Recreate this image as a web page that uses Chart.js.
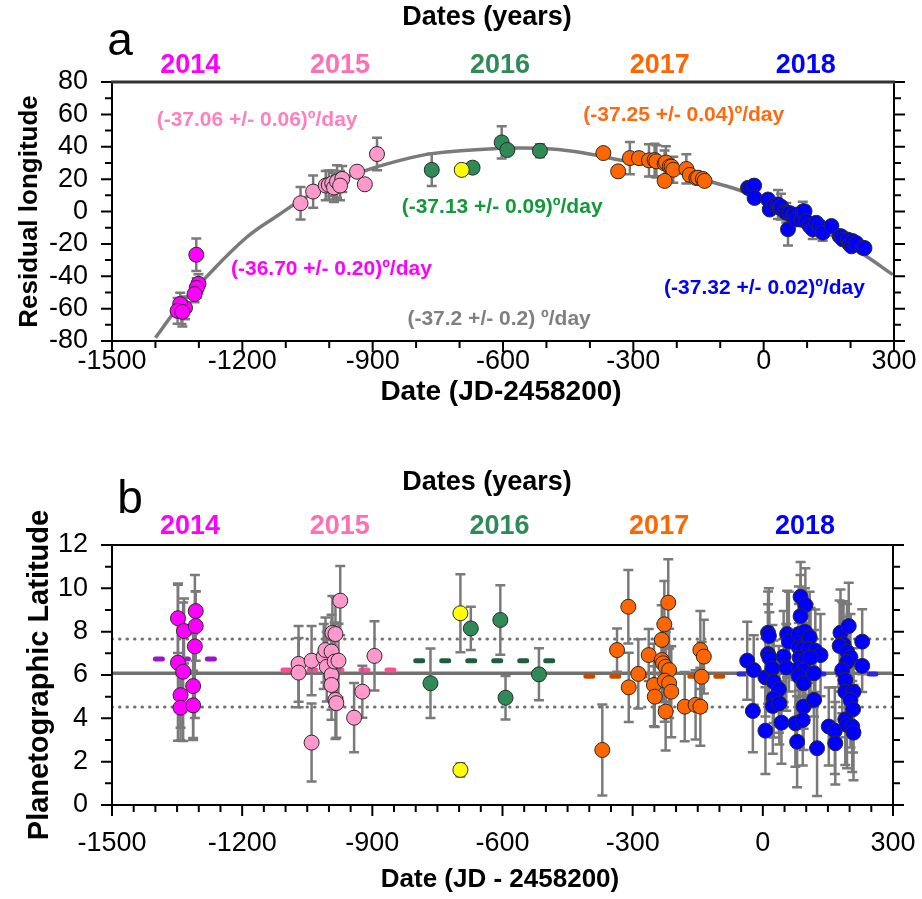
<!DOCTYPE html>
<html>
<head>
<meta charset="utf-8">
<script src="https://cdn.jsdelivr.net/npm/chart.js@4.4.1/dist/chart.umd.min.js"></script>
<style>
  html, body { margin: 0; padding: 0; background: #fff; }
  body { width: 922px; height: 899px; position: relative; overflow: hidden; }
  #panelA { position: absolute; left: 0; top: 0; }
  #panelB { position: absolute; left: 0; top: 440px; }
</style>
</head>
<body>
<canvas id="panelA" width="922" height="440"></canvas>
<canvas id="panelB" width="922" height="459"></canvas>
<script>
// ---------- shared labels ----------
const yearLabels = ['2014', '2015', '2016', '2017', '2018'];
const yearColors = ['#ff00ff', '#ff6fb5', '#2e8b57', '#ff6600', '#0000ff'];
const yearLabelDays = [-1320, -975, -607, -239, 97];
const xMajorTicks = [-1500, -1200, -900, -600, -300, 0, 300];
const xTickLabels = ['-1500', '-1200', '-900', '-600', '-300', '0', '300'];
const yMajorTicksA = [-80, -60, -40, -20, 0, 20, 40, 60, 80];
const yTickLabelsA = ['-80', '-60', '-40', '-20', '0', '20', '40', '60', '80'];
const yMajorTicksB = [0, 2, 4, 6, 8, 10, 12];
const yTickLabelsB = ['0', '2', '4', '6', '8', '10', '12'];

// ---------- panel a: residual longitude ----------
const magentaA_days = [-1306, -1301, -1305, -1310, -1332, -1340, -1343, -1349, -1338];
const magentaA_vals = [-26.7, -44.7, -47.2, -51, -59.5, -61.5, -57.2, -61.4, -62];
const magentaA_errs = [10, 6, 6, 5, 7, 8, 7, 8, 9];

const pinkA_days = [-1066, -1037, -1008, -1001, -993, -989, -982, -970, -975, -936, -918, -890];
const pinkA_vals = [5.1, 12.3, 16, 16.4, 17.4, 14.8, 18.5, 20.1, 16, 24.6, 16.8, 35.5];
const pinkA_errs = [10, 10, 9, 9, 8, 9, 10, 8, 9, 0, 0, 10];

const greenA_days = [-764, -670, -603, -590, -515];
const greenA_vals = [25.7, 27.1, 42.7, 38, 37.5];
const greenA_errs = [10, 3, 10, 0, 4];

const yellowA_days = [-695];
const yellowA_vals = [25.7];
const yellowA_errs = [0];

const orangeA_days = [-369, -335, -308, -287, -264, -251, -247, -228, -225, -216, -212, -208, -228, -178, -170, -155, -151, -140, -136];
const orangeA_vals = [36.1, 24.8, 33, 33, 31.6, 31.8, 31, 29.7, 30.3, 27.9, 27.7, 25.8, 18.9, 26.3, 22.6, 20.7, 20.9, 20.1, 18.9];
const orangeA_errs = [0, 0, 10, 0, 10, 10, 10, 8, 10, 0, 0, 8, 0, 9, 0, 0, 0, 0, 0];

const blueA_days = [-36, -32, -22, -21, 10, 14, 25, 33, 37, 40, 48, 52, 56, 60, 67, 71, 75, 87, 90, 94, 98, 106, 113, 121, 129, 136, 156, 175, 179, 182, 194, 198, 202, 205, 213, 228, 232];
const blueA_vals = [14.6, 14.4, 16, 8.4, 7.4, 1.2, 4, 4.3, 2.3, 3, 0, -0.8, -11, -1, -2.9, -2, -4.9, -5.1, 0, 0.2, -6, -9, -11, -7, -9.2, -13.1, -9, -15.2, -15.4, -17.2, -17.4, -20.3, -21.5, -18.3, -19.5, -22.4, -22.6];
const blueA_errs = [0, 0, 3, 0, 0, 0, 0, 9, 0, 8, 0, 6, 10, 0, 0, 0, 0, 0, 6, 0, 0, 0, 6, 0, 0, 5, 0, 0, 0, 0, 0, 0, 0, 0, 0, 0, 0];

// fitted drift curve, sampled along its length
const curveDays = [-1400, -1350, -1292, -1192, -1116, -1070, -1001, -924, -848, -760, -607, -515, -431, -331, -230, -124, -48, 50, 100, 167, 236, 297];
const curveVals = [-78, -60, -43, -16.4, -2, 6.2, 16.4, 24.6, 30.8, 35.9, 39, 39, 36.9, 31.8, 26.5, 18.5, 12.3, 0, -6.5, -16.4, -27.7, -39];

// drift-rate annotations
const rateTexts = ['(-37.06 +/- 0.06)º/day', '(-36.70 +/- 0.20)º/day', '(-37.13 +/- 0.09)º/day',
                   '(-37.2 +/- 0.2) º/day', '(-37.25 +/- 0.04)º/day', '(-37.32 +/- 0.02)º/day'];
const rateColors = ['#ff7fbf', '#ff00ff', '#13983a', '#808080', '#ff6a10', '#0000ff'];
const rateDays = [-1166, -995, -602, -609, -184, 2];
const rateVals = [56.6, -35.7, 2.5, -66.5, 59.7, -47.4];

// ---------- panel b: planetographic latitude ----------
const magentaB_days = [-1348, -1334, -1307, -1307, -1309, -1348, -1336, -1313, -1342, -1342, -1313];
const magentaB_lat = [8.62, 8.03, 8.95, 8.26, 7.32, 6.57, 6.15, 5.49, 5.07, 4.49, 4.60];
const magentaB_errs = [1.6, 1.5, 0.9, 1.6, 3.3, 3.6, 3.2, 2.4, 1.5, 1.5, 1.6];

const pinkB_days = [-1070, -1070, -1040, -1040, -1012, -1008, -994, -992, -985, -1005, -994, -987, -978, -974, -994, -985, -983, -942, -923, -895];
const pinkB_lat = [6.51, 6.11, 6.66, 2.88, 6.85, 7.15, 7.08, 7.95, 7.89, 6.38, 6.0, 6.62, 6.66, 9.43, 5.54, 4.85, 4.7, 4.03, 5.23, 6.88];
const pinkB_errs = [1.75, 1.6, 1.6, 1.8, 1.5, 1.5, 1.7, 1.7, 1.7, 1.6, 1.6, 1.8, 1.7, 1.6, 1.6, 1.8, 1.6, 1.6, 1.2, 1.6];

const greenB_days = [-766, -673, -605, -593, -516];
const greenB_lat = [5.62, 8.15, 8.54, 4.95, 6.03];
const greenB_errs = [1.6, 1.0, 1.6, 1.0, 1.2];

const yellowB_days = [-697, -697];
const yellowB_lat = [8.85, 1.62];
const yellowB_errs = [1.8, 0.3];

const orangeB_days = [-370, -336, -310, -309, -287, -263, -251, -249, -233, -227, -218, -233, -230, -224, -216, -226, -216, -211, -224, -180, -155, -144, -144, -136, -141];
const orangeB_lat = [2.54, 7.15, 9.15, 5.43, 6.05, 6.92, 5.54, 5.0, 7.62, 8.34, 9.34, 6.69, 6.54, 6.38, 6.23, 5.74, 5.62, 5.23, 4.31, 4.54, 4.62, 4.54, 7.15, 6.85, 5.92];
const orangeB_errs = [2.1, 1.0, 1.7, 1.6, 1.6, 1.2, 1.9, 1.4, 1.6, 2.0, 2.0, 1.7, 1.8, 1.6, 1.9, 1.9, 1.6, 2.1, 1.8, 1.6, 1.6, 1.8, 1.8, 1.7, 1.6];

const blueB_days = [-36, -21, -23, 6, 12, 14, 12, 15, 6, 22, 25, 37, 25, 23, 38, 43, 48, 56, 60, 54, 75, 79, 87, 98, 87, 83, 97, 108, 83, 92, 106, 121, 133, 85, 98, 110, 83, 94, 118, 83, 94, 94, 92, 118, 125, 152, 166, 167, 179, 198, 183, 186, 177, 194, 202, 194, 183, 190, 190, 209, 202, 208, 190, 194, 206, 209, 229, 229];
const blueB_lat = [6.66, 6.23, 4.34, 3.43, 7.95, 7.8, 6.97, 6.8, 5.89, 6.31, 5.69, 5.34, 4.92, 4.57, 4.69, 3.8, 6.85, 7.89, 7.54, 6.35, 3.77, 2.92, 9.61, 9.23, 8.72, 7.89, 8.0, 7.74, 7.28, 7.2, 7.18, 7.12, 6.92, 6.8, 6.69, 6.8, 6.3, 6.2, 6.08, 5.95, 5.62, 4.54, 3.92, 4.85, 2.62, 3.62, 3.43, 2.85, 7.95, 8.26, 7.46, 7.4, 7.34, 7.08, 6.82, 6.6, 6.23, 5.77, 5.23, 5.23, 4.85, 4.42, 3.95, 3.7, 3.62, 3.34, 7.54, 6.42];
const blueB_errs = [1.8, 1.6, 1.9, 2.0, 1.9, 2.2, 2.3, 2.1, 1.8, 2.0, 1.9, 2.0, 1.8, 2.2, 1.9, 1.9, 2.1, 2.0, 2.3, 2.0, 2.0, 2.1, 1.6, 1.7, 1.9, 2.2, 2.0, 2.1, 2.0, 2.2, 2.1, 1.9, 1.9, 2.1, 2.0, 2.3, 2.1, 2.2, 2.0, 2.2, 2.1, 2.0, 2.1, 2.2, 2.2, 1.8, 2.0, 1.9, 2.0, 2.0, 1.9, 2.0, 2.1, 2.2, 2.0, 2.1, 2.0, 2.0, 2.1, 2.0, 2.2, 2.0, 2.1, 2.0, 2.1, 2.2, 1.5, 1.2];

// overall mean latitude and its spread
const meanLat = 6.08;
const meanLatUpper = 7.66;
const meanLatLower = 4.52;

// per-year mean latitude and the span of each year's dashed segment
const yearMeanLat = [6.74, 6.23, 6.66, 5.94, 6.05];
const yearMeanStart = [-1400, -1106, -800, -408, -55];
const yearMeanEnd = [-1252, -838, -474, -86, 272];
const yearMeanColors = ['#9a14c8', '#ff4d94', '#1d5e3c', '#c44c00', '#2b2bd6'];

// ---------- helpers ----------
const FONT = "'Liberation Sans', Arial, sans-serif";
const pts = (xs, ys) => xs.map((x, i) => ({ x, y: ys[i] }));

function pointSet(days, vals, errs, fill) {
  return {
    data: pts(days, vals), errors: errs,
    backgroundColor: fill, borderColor: '#2a2a2a', borderWidth: 1,
    pointRadius: 7.5, pointHoverRadius: 7.5, order: 1
  };
}
function lineSet(days, vals, color, width, dash, order) {
  return {
    type: 'line', data: pts(days, vals), borderColor: color, borderWidth: width,
    borderDash: dash, borderCapStyle: dash.length ? 'round' : 'butt',
    pointRadius: 0, fill: false, tension: 0, order: order
  };
}

// vertical error bars, painted just before the first marker dataset
const errorBars = {
  id: 'errorBars',
  beforeDatasetsDraw(chart) { chart.$errDone = false; },
  beforeDatasetDraw(chart, args) {
    const ds = chart.data.datasets[args.index];
    if (!ds.errors || chart.$errDone) return;
    chart.$errDone = true;
    const { ctx, scales: { x, y } } = chart;
    ctx.save();
    ctx.strokeStyle = '#7a7a7a';
    ctx.lineWidth = 2.5;
    chart.data.datasets.forEach(d => {
      if (!d.errors) return;
      d.data.forEach((p, i) => {
        const e = d.errors[i];
        if (!e) return;
        const px = x.getPixelForValue(p.x);
        const y1 = y.getPixelForValue(p.y + e), y2 = y.getPixelForValue(p.y - e);
        ctx.beginPath();
        ctx.moveTo(px, y1); ctx.lineTo(px, y2);
        ctx.moveTo(px - 5, y1); ctx.lineTo(px + 5, y1);
        ctx.moveTo(px - 5, y2); ctx.lineTo(px + 5, y2);
        ctx.stroke();
      });
    });
    ctx.restore();
  }
};

// plot frame with outward tick marks (long at labelled values)
const frame = {
  id: 'frame',
  afterDraw(chart, args, o) {
    const { ctx, chartArea: a, scales: { x, y } } = chart;
    ctx.save();
    ctx.strokeStyle = '#000';
    ctx.lineWidth = 2;
    ctx.beginPath();
    ctx.moveTo(a.left, a.top); ctx.lineTo(a.left, a.bottom); ctx.lineTo(a.right, a.bottom); ctx.lineTo(a.right, a.top);
    x.ticks.forEach(t => {
      const px = x.getPixelForValue(t.value);
      const len = o.xMajor.includes(t.value) ? 11 : 7;
      ctx.moveTo(px, a.bottom); ctx.lineTo(px, a.bottom + len);
    });
    y.ticks.forEach(t => {
      const py = y.getPixelForValue(t.value);
      const len = o.yMajor.includes(t.value) ? 11 : 7;
      ctx.moveTo(a.left, py); ctx.lineTo(a.left - len, py);
      ctx.moveTo(a.right, py); ctx.lineTo(a.right + len, py);
    });
    ctx.stroke();
    ctx.lineWidth = o.topWidth;
    ctx.strokeStyle = o.topColor;
    ctx.beginPath();
    ctx.moveTo(a.left - 1, a.top); ctx.lineTo(a.right + 1, a.top);
    ctx.stroke();
    ctx.restore();
  }
};

// titles, panel letter, year labels and in-plot annotations
const texts = {
  id: 'texts',
  afterDraw(chart, args, o) {
    const { ctx, chartArea: a, scales: { x, y } } = chart;
    ctx.save();
    ctx.textAlign = 'center';
    ctx.textBaseline = 'middle';
    ctx.fillStyle = '#000';
    ctx.font = `bold 27px ${FONT}`;
    ctx.fillText('Dates (years)', 487, a.top + o.datesDy);
    ctx.font = `46px ${FONT}`;
    ctx.fillText(o.letter, o.letterX, a.top + o.letterDy);
    ctx.font = `bold 27px ${FONT}`;
    yearLabels.forEach((t, i) => {
      ctx.fillStyle = yearColors[i];
      ctx.fillText(t, x.getPixelForValue(yearLabelDays[i]), a.top + o.yearDy);
    });
    ctx.fillStyle = '#000';
    ctx.font = `bold ${o.xTitleSize}px ${FONT}`;
    ctx.fillText(o.xTitle, o.xTitleX, a.bottom + o.xTitleDy);
    ctx.save();
    ctx.font = `bold ${o.yTitleSize}px ${FONT}`;
    ctx.translate(o.yTitleX, (a.top + a.bottom) / 2 + o.yTitleDy);
    ctx.rotate(-Math.PI / 2);
    ctx.fillText(o.yTitle, 0, 0);
    ctx.restore();
    if (o.rates) {
      ctx.font = `bold 21px ${FONT}`;
      rateTexts.forEach((t, i) => {
        ctx.fillStyle = rateColors[i];
        ctx.fillText(t, x.getPixelForValue(rateDays[i]), y.getPixelForValue(rateVals[i]));
      });
    }
    ctx.restore();
  }
};

function axisX(step, height, pad) {
  return {
    type: 'linear', min: -1500, max: 300,
    afterFit(s) { s.height = height; s.paddingLeft = 0; s.paddingRight = 0; },
    grid: { display: false, drawTicks: false }, border: { display: false },
    ticks: {
      stepSize: step, autoSkip: false, maxRotation: 0, minRotation: 0, padding: pad,
      color: '#000', font: { family: FONT, size: 27 },
      callback: v => { const k = xMajorTicks.indexOf(v); return k >= 0 ? xTickLabels[k] : ''; }
    }
  };
}
function axisY(min, max, step, majors, labels, pad) {
  return {
    type: 'linear', min, max,
    afterFit(s) { s.width = 112; s.paddingTop = 0; s.paddingBottom = 0; },
    grid: { display: false, drawTicks: false }, border: { display: false },
    ticks: {
      stepSize: step, autoSkip: false, padding: pad,
      color: '#000', font: { family: FONT, size: 27 },
      callback: v => { const k = majors.indexOf(v); return k >= 0 ? labels[k] : ''; }
    }
  };
}
const common = {
  responsive: false, animation: false, events: [],
  plugins: { legend: { display: false }, tooltip: { enabled: false } }
};

// ---------- chart a ----------
new Chart(document.getElementById('panelA'), {
  type: 'scatter',
  data: {
    datasets: [
      pointSet(yellowA_days, yellowA_vals, yellowA_errs, '#ffff00'),
      pointSet(magentaA_days, magentaA_vals, magentaA_errs, '#ff00ff'),
      pointSet(pinkA_days, pinkA_vals, pinkA_errs, '#ff99cc'),
      pointSet(greenA_days, greenA_vals, greenA_errs, '#2e8b57'),
      pointSet(orangeA_days, orangeA_vals, orangeA_errs, '#ff6600'),
      pointSet(blueA_days, blueA_vals, blueA_errs, '#0000ff'),
      Object.assign(lineSet(curveDays, curveVals, '#7a7a7a', 3.5, [], 10), { tension: 0.4 })
    ]
  },
  options: Object.assign({}, common, {
    layout: { padding: { left: 0, right: 28, top: 82, bottom: 0 } },
    scales: {
      x: axisX(100, 99, 4),
      y: axisY(-80, 80, 10, yMajorTicksA, yTickLabelsA, 24)
    },
    plugins: Object.assign({}, common.plugins, {
      frame: { xMajor: xMajorTicks, yMajor: yMajorTicksA, topWidth: 3, topColor: '#333' },
      texts: {
        letter: 'a', letterX: 120, letterDy: -40, datesDy: -64, yearDy: -16,
        xTitle: 'Date (JD-2458200)', xTitleX: 501, xTitleDy: 51, xTitleSize: 28,
        yTitle: 'Residual longitude', yTitleX: 30, yTitleDy: 0, yTitleSize: 26, rates: true
      }
    })
  }),
  plugins: [errorBars, frame, texts]
});

// ---------- chart b ----------
const yearMeanSets = yearMeanLat.map((v, i) =>
  lineSet([yearMeanStart[i], yearMeanEnd[i]], [v, v], yearMeanColors[i], 5, [7, 19], 8));

new Chart(document.getElementById('panelB'), {
  type: 'scatter',
  data: {
    datasets: [
      pointSet(yellowB_days, yellowB_lat, yellowB_errs, '#ffff00'),
      pointSet(magentaB_days, magentaB_lat, magentaB_errs, '#ff00ff'),
      pointSet(pinkB_days, pinkB_lat, pinkB_errs, '#ff99cc'),
      pointSet(greenB_days, greenB_lat, greenB_errs, '#2e8b57'),
      pointSet(orangeB_days, orangeB_lat, orangeB_errs, '#ff6600'),
      pointSet(blueB_days, blueB_lat, blueB_errs, '#0000ff'),
      ...yearMeanSets,
      lineSet([-1500, 300], [meanLat, meanLat], '#707070', 3.5, [], 10),
      lineSet([-1500, 300], [meanLatUpper, meanLatUpper], '#707070', 3, [0.5, 7], 10),
      lineSet([-1500, 300], [meanLatLower, meanLatLower], '#707070', 3, [0.5, 7], 10)
    ]
  },
  options: Object.assign({}, common, {
    layout: { padding: { left: 0, right: 29, top: 105, bottom: 0 } },
    scales: {
      x: axisX(50, 94, 22),
      y: axisY(0, 12, 1, yMajorTicksB, yTickLabelsB, 24)
    },
    plugins: Object.assign({}, common.plugins, {
      frame: { xMajor: xMajorTicks, yMajor: yMajorTicksB, topWidth: 2, topColor: '#000' },
      texts: {
        letter: 'b', letterX: 130, letterDy: -45, datesDy: -62, yearDy: -18,
        xTitle: 'Date (JD - 2458200)', xTitleX: 500, xTitleDy: 75, xTitleSize: 26,
        yTitle: 'Planetographic Latitude', yTitleX: 40, yTitleDy: 0, yTitleSize: 29, rates: false
      }
    })
  }),
  plugins: [errorBars, frame, texts]
});
</script>
</body>
</html>
